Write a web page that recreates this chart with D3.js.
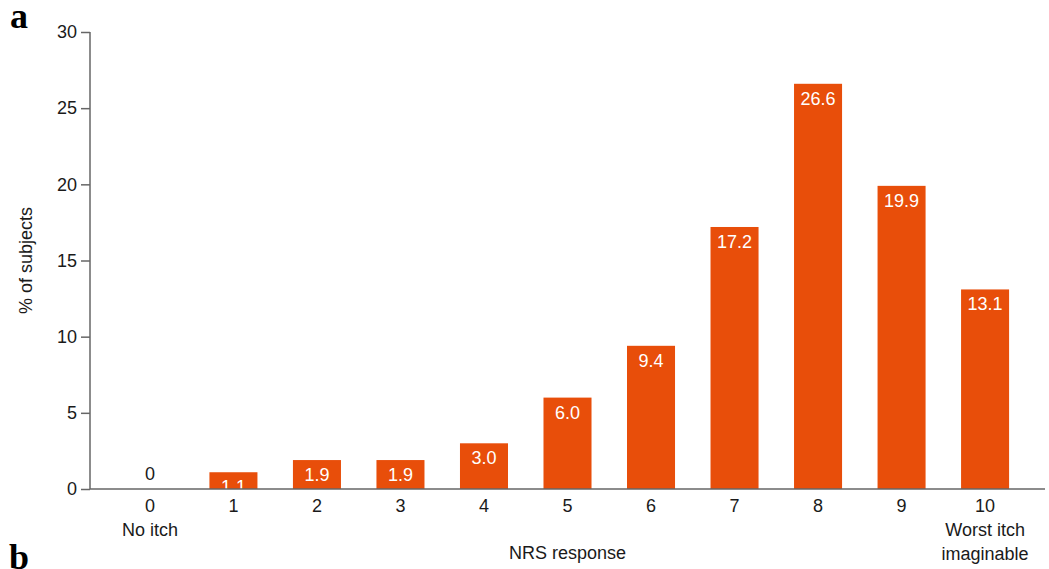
<!DOCTYPE html>
<html>
<head>
<meta charset="utf-8">
<script src="https://cdn.jsdelivr.net/npm/d3@7"></script>
<style>
  html, body { margin: 0; padding: 0; background: #fff; }
  svg { display: block; }
</style>
</head>
<body>
<svg id="chart" width="1049" height="569"></svg>
<script>
// NRS itch score distribution
const categories = ["0", "1", "2", "3", "4", "5", "6", "7", "8", "9", "10"];
const percentSubjects = [0, 1.1, 1.9, 1.9, 3.0, 6.0, 9.4, 17.2, 26.6, 19.9, 13.1];
const valueLabels = ["0", "1.1", "1.9", "1.9", "3.0", "6.0", "9.4", "17.2", "26.6", "19.9", "13.1"];
const yTicks = [0, 5, 10, 15, 20, 25, 30];
const anchorLabels = { "0": ["No itch"], "10": ["Worst itch", "imaginable"] };

const svg = d3.select("#chart");
const font = "'Liberation Sans', Arial, sans-serif";
const serif = "'Liberation Serif', 'Times New Roman', serif";
const barColor = "#E84E0A";
const axisColor = "#666";
const textColor = "#1a1a1a";
const fs = 18;

const plot = { left: 90, right: 1045, top: 32, bottom: 489 };

const x = d3.scaleBand()
  .domain(categories)
  .range([plot.left, plot.right])
  .paddingInner(0.425)
  .paddingOuter(0.43);

const y = d3.scaleLinear()
  .domain([0, 30])
  .range([plot.bottom, plot.top]);

// Bars
svg.append("g")
  .selectAll("rect")
  .data(categories)
  .join("rect")
  .attr("x", d => x(d))
  .attr("width", x.bandwidth())
  .attr("y", (d, i) => y(percentSubjects[i]))
  .attr("height", (d, i) => y(0) - y(percentSubjects[i]))
  .attr("fill", barColor);

// Value labels: inside the bar in white, above the baseline when there is no bar
svg.append("g")
  .selectAll("text")
  .data(categories)
  .join("text")
  .attr("x", d => x(d) + x.bandwidth() / 2)
  .attr("y", (d, i) => percentSubjects[i] > 0 ? y(percentSubjects[i]) + 21 : y(0) - 9)
  .attr("text-anchor", "middle")
  .attr("font-family", font)
  .attr("font-size", fs)
  .attr("fill", (d, i) => percentSubjects[i] > 0 ? "#fff" : textColor)
  .text((d, i) => valueLabels[i]);

// Y axis
const yAxis = svg.append("g")
  .attr("transform", `translate(${plot.left},0)`)
  .call(d3.axisLeft(y).tickValues(yTicks).tickSize(9).tickPadding(4).tickFormat(d3.format("d")));
yAxis.select(".domain").attr("stroke", axisColor).attr("stroke-width", 1.5)
  .attr("d", `M0,${plot.top}V${plot.bottom}`);
yAxis.selectAll(".tick line").attr("stroke", axisColor).attr("stroke-width", 1.5);
yAxis.selectAll(".tick text").attr("font-family", font).attr("font-size", fs).attr("fill", textColor);

// X axis
const xAxis = svg.append("g")
  .attr("transform", `translate(0,${plot.bottom})`)
  .call(d3.axisBottom(x).tickSize(0).tickPadding(10));
xAxis.select(".domain").attr("stroke", axisColor).attr("stroke-width", 1.5)
  .attr("d", `M${plot.left},0H${plot.right}`);
xAxis.selectAll(".tick text").attr("font-family", font).attr("font-size", fs).attr("fill", textColor);

// Anchor descriptions under the end categories
Object.entries(anchorLabels).forEach(([cat, lines]) => {
  lines.forEach((line, k) => {
    svg.append("text")
      .attr("x", x(cat) + x.bandwidth() / 2)
      .attr("y", 536 + k * 24)
      .attr("text-anchor", "middle")
      .attr("font-family", font)
      .attr("font-size", fs)
      .attr("fill", textColor)
      .text(line);
  });
});

// Axis titles
svg.append("text")
  .attr("x", (plot.left + plot.right) / 2)
  .attr("y", 559)
  .attr("text-anchor", "middle")
  .attr("font-family", font)
  .attr("font-size", fs)
  .attr("fill", textColor)
  .text("NRS response");

svg.append("text")
  .attr("transform", `translate(32,${(plot.top + plot.bottom) / 2}) rotate(-90)`)
  .attr("text-anchor", "middle")
  .attr("font-family", font)
  .attr("font-size", fs)
  .attr("fill", textColor)
  .text("% of subjects");

// Panel letters
svg.append("text")
  .attr("x", 10).attr("y", 28)
  .attr("font-family", serif)
  .attr("font-weight", "bold")
  .attr("font-size", 36)
  .attr("fill", "#000")
  .text("a");

svg.append("text")
  .attr("x", 9).attr("y", 569)
  .attr("font-family", serif)
  .attr("font-weight", "bold")
  .attr("font-size", 36)
  .attr("fill", "#000")
  .text("b");
</script>
</body>
</html>
